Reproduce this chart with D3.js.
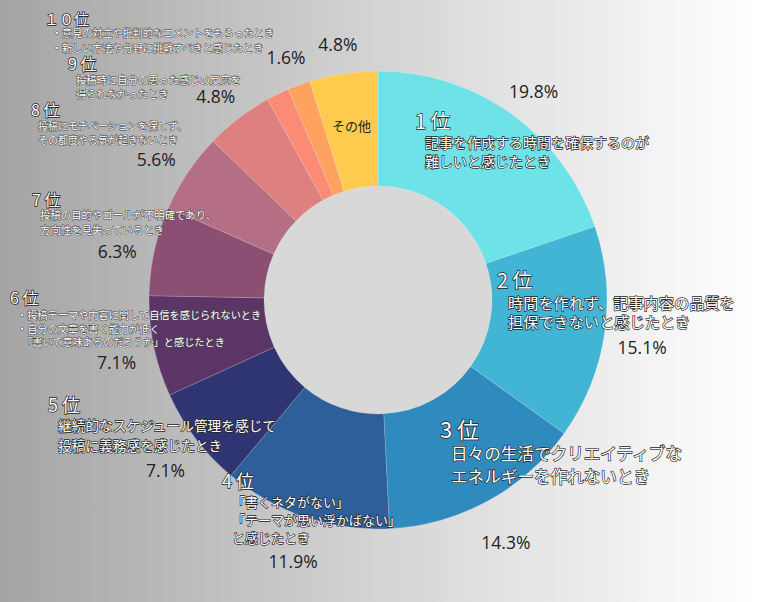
<!DOCTYPE html>
<html>
<head>
<meta charset="utf-8">
<script src="https://cdn.jsdelivr.net/npm/d3@7"></script>
<style>
  html,body{margin:0;padding:0;}
  body{width:757px;height:602px;overflow:hidden;}
</style>
</head>
<body>
<svg id="chart" width="757" height="602"></svg>
<script>
// slices, clockwise from 12 o'clock
var categories=["1位","2位","3位","4位","5位","6位","7位","8位","9位","10位a","10位b","その他"];
var values=[19.8,15.1,14.3,11.9,7.1,7.1,6.3,5.6,4.8,1.6,1.6,4.8];
var colors=["#6de3e7","#42b5d4","#2f8bbd","#2e5f9a","#2f3572","#5b3566","#8a4f73","#b46f84","#de7f80","#fb8b74","#fda35f","#fecb4f"];
// which slices carry a % label (10位 shows a single one)
var pctShown=[1,1,1,1,1,1,1,1,1,0,1,1];

var rankTitles=["1位","2位","3位","4位","5位","6位","7位","8位","9位","１０位"];
var reasons=[
  ["記事を作成する時間を確保するのが","難しいと感じたとき"],
  ["時間を作れず、記事内容の品質を","担保できないと感じたとき"],
  ["日々の生活でクリエイティブな","エネルギーを作れないとき"],
  ["「書くネタがない」","「テーマが思い浮かばない」","と感じたとき"],
  ["継続的なスケジュール管理を感じて","投稿に義務感を感じたとき"],
  ["・投稿テーマや内容に関して自信を感じられないとき","・自分の文章を書く能力が低く","　「書いて意味あるのだろうか」と感じたとき"],
  ["投稿の目的やゴールが不明確であり、","方向性を見失っているとき"],
  ["投稿にモチベーションを保てず、","その都度やる気が起きないとき"],
  ["投稿時に自分の思った感じの反応を","得られなかったとき"],
  ["・意見の対立や批判的なコメントをもらったとき","・新しい方法や分野に挑戦すべきと感じたとき"]
];

// where each annotation block sits (title baseline, text start, sizes)
var notePos=[
  {x:415,y:129,ts:20,lx:425,ly:148,fs:14,lh:19},
  {x:497,y:288,ts:20,lx:508,ly:309,fs:15.2,lh:19},
  {x:440,y:438,ts:22,lx:451,ly:460,fs:16.6,lh:23},
  {x:222,y:488,ts:18,lx:232,ly:507,fs:13,lh:18},
  {x:48,y:412,ts:18,lx:58,ly:431,fs:13.7,lh:20},
  {x:10,y:304,ts:16,lx:17,ly:319,fs:10.2,lh:13.6},
  {x:32,y:206,ts:16,lx:40,ly:219,fs:10.4,lh:14.5},
  {x:31,y:116,ts:16,lx:38,ly:130,fs:10,lh:14},
  {x:68,y:70,ts:16,lx:76,ly:84,fs:10.3,lh:14},
  {x:44,y:25,ts:15,lx:52,ly:37,fs:10.1,lh:14.5}
];

var W=757,H=602;
var cx=378,cy=300,R=229,r0=114;

var svg=d3.select("#chart");

var defs=svg.append("defs");
var grad=defs.append("linearGradient").attr("id","bg").attr("x1","0").attr("x2","1").attr("y1","0").attr("y2","0");
grad.append("stop").attr("offset","0").attr("stop-color","#a4a4a4");
grad.append("stop").attr("offset","0.5").attr("stop-color","#d4d4d4");
grad.append("stop").attr("offset","1").attr("stop-color","#ffffff");

svg.append("rect").attr("width",W).attr("height",H).attr("fill","url(#bg)");

var pie=d3.pie().sort(null).value(function(d){ return d; });
var arcs=pie(values);

var arc=d3.arc().innerRadius(r0).outerRadius(R);
var labelArc=d3.arc().innerRadius(267).outerRadius(267);
var innerLabelArc=d3.arc().innerRadius(176).outerRadius(176);

var g=svg.append("g").attr("transform","translate("+cx+","+cy+")");

g.append("circle").attr("r",r0).attr("fill","#d8d8d8");

g.selectAll(".slice").data(arcs).enter().append("path")
    .attr("class","slice")
    .attr("d",arc)
    .attr("fill",function(d,i){ return colors[i]; })
    .attr("stroke","rgba(255,255,255,0.25)")
    .attr("stroke-width",0.7);

// percentage labels
var gp=svg.append("g").attr("transform","translate("+cx+","+(cy+8)+")");
gp.selectAll(".pct").data(arcs.filter(function(d,i){ return pctShown[i]; })).enter().append("text")
    .attr("class","pct")
    .attr("transform",function(d){ return "translate("+labelArc.centroid(d)+")"; })
    .attr("text-anchor","middle")
    .attr("dominant-baseline","central")
    .style("font-family","'Open Sans','Noto Sans',sans-serif")
    .style("font-size","17.5px")
    .style("fill","#222")
    .text(function(d){ return d3.format(".1f")(d.value)+"%"; });

// その他 inside its slice
var other=arcs[categories.indexOf("その他")];
var oc=innerLabelArc.centroid(other);
g.append("text")
    .attr("x",oc[0]).attr("y",oc[1]+5)
    .attr("text-anchor","middle")
    .style("font-family","'Noto Sans CJK JP',sans-serif")
    .style("font-size","13px")
    .style("fill","#222")
    .text("その他");

// rank annotations
for(var i=0;i<rankTitles.length;i++){
    var p=notePos[i];
    var big=p.fs>=13;

    svg.append("text")
        .attr("x",p.x).attr("y",p.y)
        .style("font-family","'Noto Sans CJK JP',sans-serif")
        .style("font-size",p.ts+"px")
        .style("letter-spacing",rankTitles[i].length==2?"0.22em":"0")
        .style("fill","#ffffff")
        .style("stroke","#222")
        .style("stroke-width",1.4)
        .style("paint-order","stroke")
        .text(rankTitles[i]);

    for(var j=0;j<reasons[i].length;j++){
        svg.append("text")
            .attr("x",p.lx).attr("y",p.ly+j*p.lh)
            .style("font-family","'Noto Sans CJK JP',sans-serif")
            .style("font-size",p.fs+"px")
            .style("fill","#ffffff")
            .style("stroke",big?"#222":"#444")
            .style("stroke-width",big?1.3:1.0)
            .style("paint-order","stroke")
            .style("white-space","pre")
            .text(reasons[i][j]);
    }
}
</script>
</body>
</html>
